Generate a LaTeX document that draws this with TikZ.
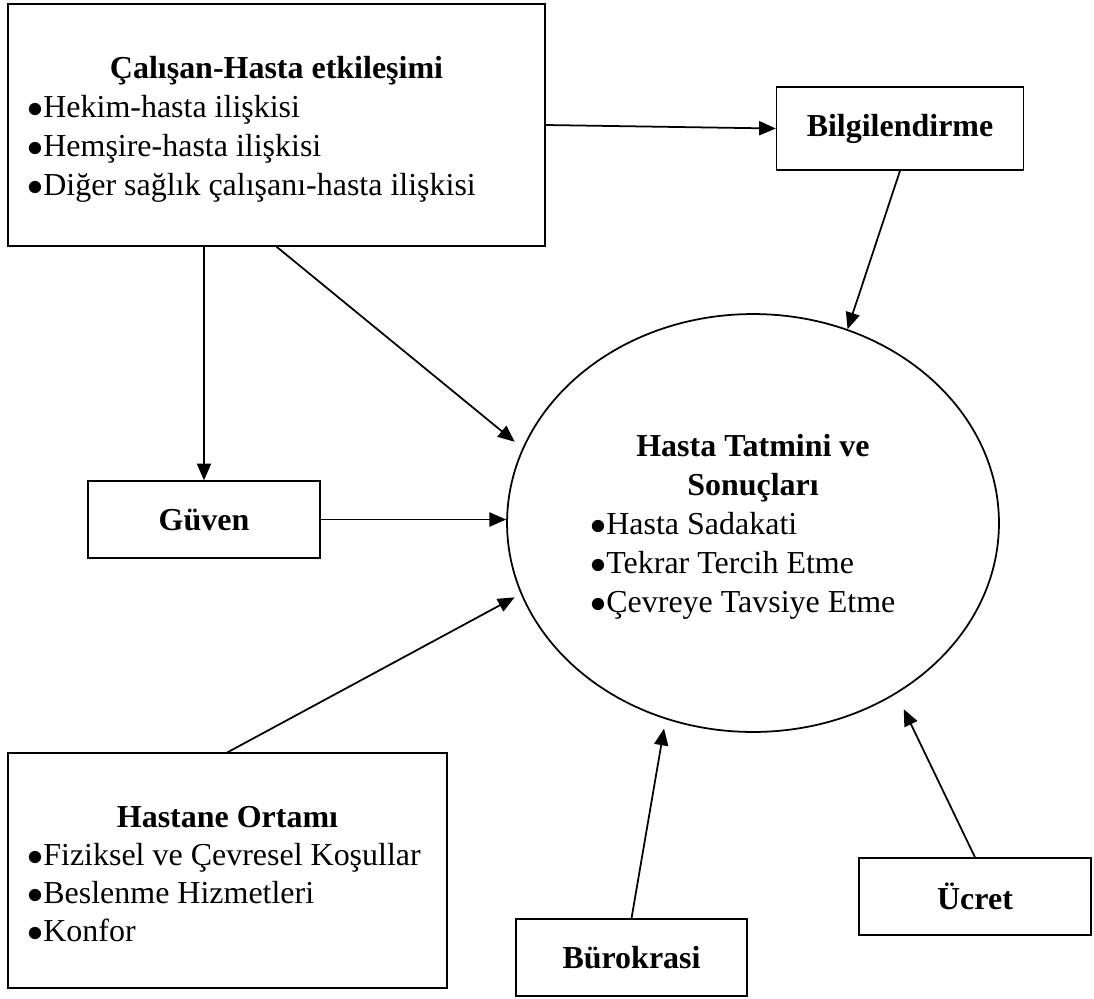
\RequirePackage{fix-cm}
\documentclass[tikz,border=0pt]{standalone}
\usepackage{fontspec}
\setmainfont{Liberation Serif}
\usetikzlibrary{shapes.geometric,arrows.meta}
\newcommand{\basefont}{\fontsize{18.2}{22}\selectfont}
\newcommand{\blt}{$\bullet$}

\begin{document}
\begin{tikzpicture}
    [x=0.02cm,y=-0.02cm,
    font=\basefont,
    box/.style={shape=rectangle,draw=black,thick,font=\basefont\bfseries},
    title/.style={anchor=base,inner sep=0pt,font=\basefont\bfseries},
    item/.style={anchor=base west,inner sep=0pt},
    arc/.style={-{Triangle[length=9.5pt,width=8pt]},line width=1pt}]

    \useasboundingbox (0,0) rectangle (1094,998);

    % boxes
    \node (etk) [box,minimum width=10.74cm,minimum height=4.84cm] at (276.5,125) {};
    \node (bilgi) [box,minimum width=4.94cm,minimum height=1.66cm] at (900,128.5) {Bilgilendirme};
    \node (guven) [box,minimum width=4.64cm,minimum height=1.54cm] at (204,519.5) {Güven};
    \node (hastane) [box,minimum width=8.78cm,minimum height=4.70cm] at (227.5,870.5) {};
    \node (buro) [box,minimum width=4.62cm,minimum height=1.54cm] at (631.5,957.5) {Bürokrasi};
    \node (ucret) [box,minimum width=4.64cm,minimum height=1.54cm] at (975,896.5) {Ücret};
    \node (sat) [shape=ellipse,draw=black,line width=1pt,minimum width=9.84cm,minimum height=8.36cm] at (753,523) {};

    % texts
    \node (etkT) [title] at (276.5,78) {Çalışan-Hasta etkileşimi};
    \foreach \t [count=\i] in {Hekim-hasta ilişkisi,Hemşire-hasta ilişkisi,Diğer sağlık çalışanı-hasta ilişkisi}
      \node (etk\i) [item] at (27,{78+39*\i}) {\blt\t};

    \foreach \t [count=\i] in {Hasta Tatmini ve,Sonuçları}
      \node (satT\i) [title] at (753,{417+39*\i}) {\t};
    \foreach \t [count=\i] in {Hasta Sadakati,Tekrar Tercih Etme,Çevreye Tavsiye Etme}
      \node (sat\i) [item] at (590,{495+39*\i}) {\blt\t};

    \node (hastaneT) [title] at (227.5,827) {Hastane Ortamı};
    \foreach \t [count=\i] in {Fiziksel ve Çevresel Koşullar,Beslenme Hizmetleri,Konfor}
      \node (hastane\i) [item] at (27,{827+38*\i}) {\blt\t};

    % arrows
    \draw [arc] (etk.east) -- (bilgi.west);
    \draw [arc] (bilgi.south) -- (sat.64);
    \draw [arc] (guven.north |- etk.south) -- (guven.north);
    \draw [arc,shorten >=0.2cm] (etk.south) -- (sat.162);
    \draw [arc] (guven.east) -- (guven.east -| sat.west);
    \draw [arc,shorten >=0.14cm] (hastane.north) -- (sat.197);
    \draw [arc,shorten >=0.19cm] (buro.north) -- (sat.246);
    \draw [arc,shorten >=0.34cm] (ucret.north) -- (sat.310);

\end{tikzpicture}
\end{document}
